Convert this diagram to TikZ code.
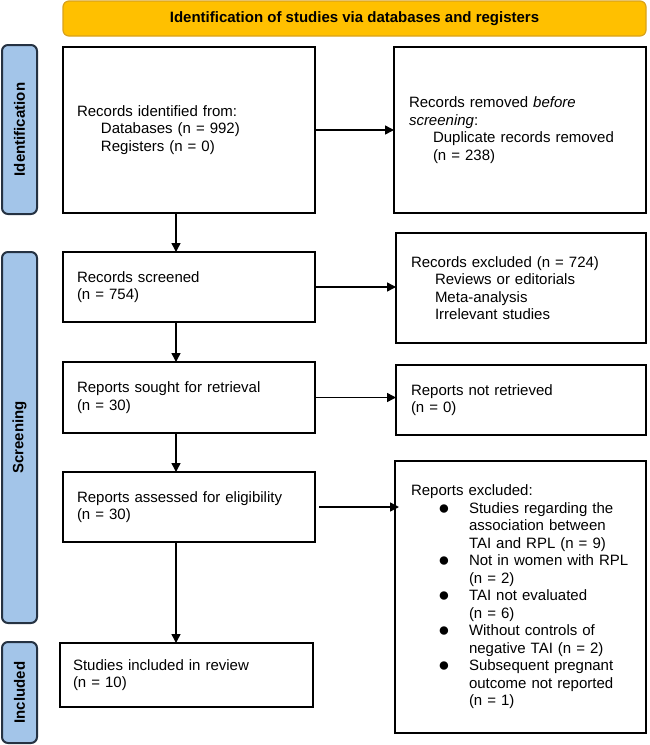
\documentclass[tikz,border=0pt]{standalone}
\usepackage{fontspec}
\setmainfont{Liberation Sans}
\usetikzlibrary{arrows.meta,calc}
\definecolor{hdrfill}{HTML}{FFC000}
\definecolor{hdrline}{HTML}{D9A21B}
\definecolor{barfill}{HTML}{A3C5E9}
\definecolor{barline}{HTML}{253242}
\newcommand{\ind}{\hspace*{24pt}}
\newcommand{\bitem}[1]{\hspace*{27pt}\makebox[31pt][l]{\raisebox{-1pt}{\scalebox{1.3}{●}}}#1}
\newcommand{\bcont}[1]{\hspace*{58pt}#1}
\begin{document}
\begin{tikzpicture}[x=1pt,y=-1pt,
  txt/.style={font=\fontsize{15}{17.5}\selectfont},
  box/.style={txt, draw=black, line width=1.6pt, fill=white, anchor=north west,
    align=left, inner ysep=0pt, outer sep=0pt},
  hdrbox/.style={draw=hdrline, fill=hdrfill, line width=1.2pt, rounded corners=6pt,
    anchor=north west, inner sep=0pt, outer sep=0pt,
    font=\fontsize{15}{17.5}\selectfont\bfseries},
  barbox/.style={draw=barline, fill=barfill, line width=2pt, rounded corners=6pt},
  barlabel/.style={rotate=90, font=\fontsize{15}{17.5}\selectfont\bfseries, inner sep=0pt},
  arr/.style={line width=1.5pt, -{Triangle[length=9pt,width=9pt]}}
]
\useasboundingbox (0,0) rectangle (649,745);

% header
\node[hdrbox, minimum width=583pt, minimum height=35pt] (hdr) at (63,1)
  {Identification of studies via databases and registers};

% side bars
\draw[barbox] (2,45) rectangle (37,214);
\node[barlabel] (lid) at (19.5,129.5) {Identification};
\draw[barbox] (2,252) rectangle (37,623);
\node[barlabel] (lsc) at (19.5,437.5) {Screening};
\draw[barbox] (2,642) rectangle (37,743);
\node[barlabel] (lin) at (19.5,692.5) {Included};

% left column
\node[box, inner xsep=14pt, text width=224pt, minimum height=166pt] (ident) at (63,47)
  {Records identified from:\\ \ind Databases (n = 992)\\ \ind Registers (n = 0)};
\node[box, inner xsep=14pt, text width=224pt, minimum height=70pt] (screen) at (63,252)
  {Records screened\\(n = 754)};
\node[box, inner xsep=14pt, text width=224pt, minimum height=71pt] (sought) at (63,362)
  {Reports sought for retrieval\\(n = 30)};
\node[box, inner xsep=14pt, text width=224pt, minimum height=70pt] (assess) at (63,472)
  {Reports assessed for eligibility\\(n = 30)};
\node[box, inner xsep=13pt, text width=227pt, minimum height=64pt] (incl) at (60,643)
  {Studies included in review\\(n = 10)};

% right column
\node[box, inner xsep=15pt, text width=222pt, minimum height=166pt] (removed) at (394,47)
  {Records removed \emph{before}\\\emph{screening}:\\ \ind Duplicate records removed\\ \ind (n = 238)};
\node[box, inner xsep=15pt, text width=220pt, minimum height=110pt] (excl) at (396,233)
  {Records excluded (n = 724)\\ \ind Reviews or editorials\\ \ind Meta-analysis\\ \ind Irrelevant studies};
\node[box, inner xsep=15pt, text width=220pt, minimum height=70pt] (notret) at (396,365)
  {Reports not retrieved\\(n = 0)};
\node[box, inner xsep=16pt, text width=219pt, minimum height=272pt] (rexcl) at (395,461)
  {Reports excluded:\\
   \bitem{Studies regarding the}\\
   \bcont{association between}\\
   \bcont{TAI and RPL (n = 9)}\\
   \bitem{Not in women with RPL}\\
   \bcont{(n = 2)}\\
   \bitem{TAI not evaluated}\\
   \bcont{(n = 6)}\\
   \bitem{Without controls of}\\
   \bcont{negative TAI (n = 2)}\\
   \bitem{Subsequent pregnant}\\
   \bcont{outcome not reported}\\
   \bcont{(n = 1)}};

% connectors
\coordinate (xa) at (176,0);
\draw[arr] (ident.south -| xa) -- (screen.north -| xa);
\draw[arr] (screen.south -| xa) -- (sought.north -| xa);
\draw[arr] (sought.south -| xa) -- (assess.north -| xa);
\draw[arr] (assess.south -| xa) -- (incl.north -| xa);

\draw[arr] (ident.east) -- (ident.east -| removed.west);
\draw[arr] (screen.east) -- (screen.east -| excl.west);
\draw[arr] (sought.east) -- (sought.east -| notret.west);
\draw[arr] ([xshift=4pt]assess.east) -- ([xshift=4pt]assess.east -| rexcl.west);
\end{tikzpicture}
\end{document}
